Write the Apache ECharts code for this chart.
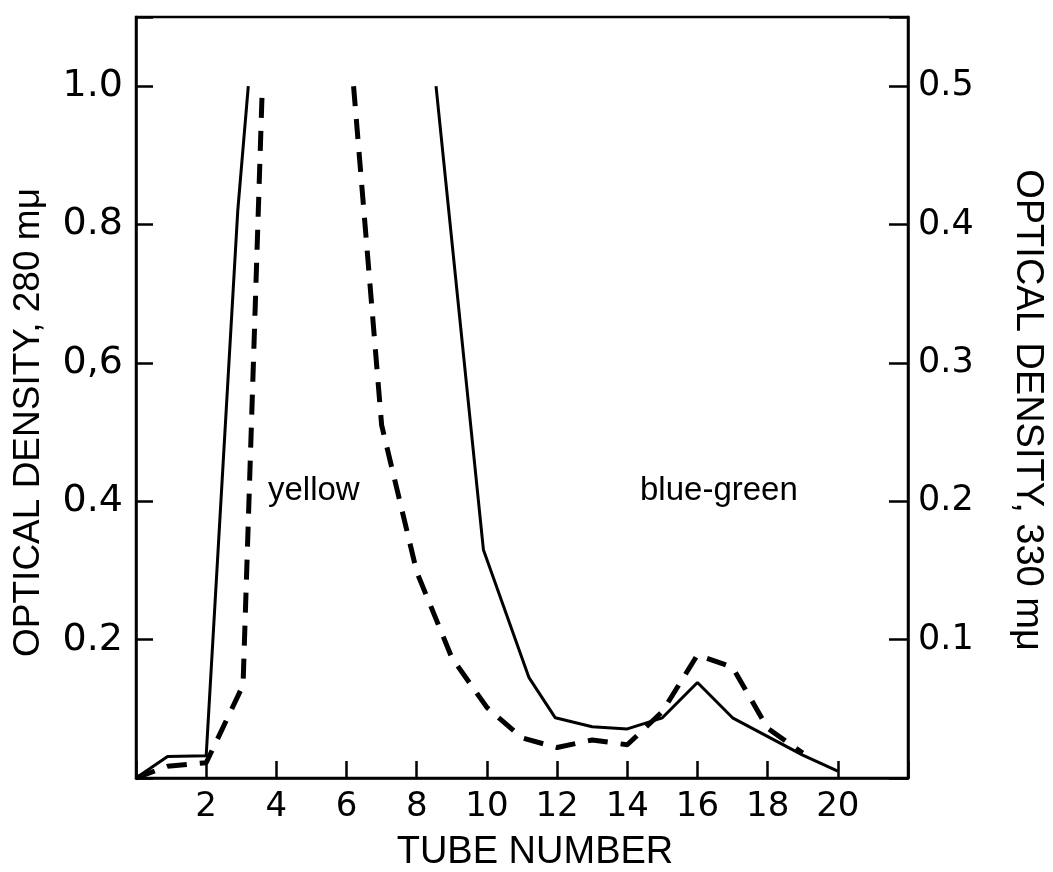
<!DOCTYPE html>
<html>
<head>
<meta charset="utf-8">
<script src="https://cdn.jsdelivr.net/npm/echarts@6/dist/echarts.min.js"></script>
<style>
html,body{margin:0;padding:0;background:#fff;}
#chart{width:1053px;height:872px;}
</style>
</head>
<body>
<div id="chart"></div>
<script>
// ---- data ----
// Solid line: optical density at 280 mμ (left axis). Curve leaves the scale at 1.0.
const solidPart1 = [[0, 0], [0.9, 0.031], [2, 0.032], [2.9, 0.82], [3.2, 1.0]];
const solidPart2 = [[8.55, 1.0], [9.9, 0.33], [11.2, 0.145], [11.95, 0.087], [13, 0.074], [14, 0.071], [15, 0.087], [16, 0.138], [17, 0.087], [19, 0.033], [20, 0.01]];
// Dashed line: optical density at 330 mμ (right axis). Curve leaves the scale at 0.5.
const dashedPart1 = [[0, 0], [0.9, 0.0085], [2, 0.011], [3.05, 0.067], [3.6, 0.5]];
const dashedPart2 = [[6.2, 0.5], [7, 0.255], [8, 0.149], [9, 0.087], [10, 0.051], [11, 0.029], [12, 0.022], [13, 0.0275], [14, 0.024], [15, 0.048], [16, 0.089], [17, 0.08], [18, 0.036], [19, 0.018]];

const xTickValues = [2, 4, 6, 8, 10, 12, 14, 16, 18, 20];
const xTickLabels = ['2', '4', '6', '8', '10', '12', '14', '16', '18', '20'];
const leftTickValues = [0.2, 0.4, 0.6, 0.8, 1.0];
const leftTickLabels = ['0.2', '0.4', '0,6', '0.8', '1.0'];
const rightTickValues = [0.1, 0.2, 0.3, 0.4, 0.5];
const rightTickLabels = ['0.1', '0.2', '0.3', '0.4', '0.5'];

const xAxisTitle = 'TUBE NUMBER';
const leftAxisTitle = 'OPTICAL DENSITY, 280 mμ';
const rightAxisTitle = 'OPTICAL DENSITY, 330 mμ';
const annotations = ['yellow', 'blue-green'];

// ---- helpers ----
function lookup(values, labels) {
  return function (v) {
    for (let i = 0; i < values.length; i++) {
      if (Math.abs(values[i] - v) < 1e-6) return labels[i];
    }
    return '';
  };
}

const FONT = 'Liberation Sans';
const NUMFONT = 'DejaVu Sans';
const chart = echarts.init(document.getElementById('chart'), null, {renderer: 'canvas'});

const solidStyle = {color: '#000', width: 3, type: 'solid'};
const dashedStyle = {color: '#000', width: 5, type: [20, 13], cap: 'butt'};

function lineSeries(data, style, yIndex) {
  return {
    type: 'line',
    yAxisIndex: yIndex,
    data: data,
    showSymbol: false,
    symbol: 'none',
    smooth: false,
    lineStyle: style,
    itemStyle: {color: '#000'},
    clip: false,
    z: 3,
    animation: false
  };
}

const option = {
  backgroundColor: '#fff',
  animation: false,
  grid: {
    left: 136, right: 145, top: 17, bottom: 94,
    containLabel: false,
    outerBoundsMode: 'none',
    show: true, borderColor: '#000', borderWidth: 2.5, backgroundColor: 'transparent'
  },
  xAxis: {
    type: 'value',
    min: 0, max: 22, interval: 2,
    name: xAxisTitle,
    nameLocation: 'middle',
    nameGap: 56,
    nameTextStyle: {fontFamily: FONT, fontSize: 38, color: '#000', padding: [0, 0, 0, 26]},
    axisLine: {show: true, lineStyle: {color: '#000', width: 2.5}},
    axisTick: {show: true, inside: true, length: 17, lineStyle: {color: '#000', width: 2.5}},
    axisLabel: {
      fontFamily: NUMFONT, fontSize: 34, color: '#000', margin: 12,
      formatter: lookup(xTickValues, xTickLabels)
    },
    splitLine: {show: false}
  },
  yAxis: [
    {
      type: 'value',
      position: 'left',
      min: 0, max: 1.1, interval: 0.2,
      name: leftAxisTitle,
      nameLocation: 'middle',
      nameRotate: 90,
      nameGap: 89,
      nameTextStyle: {fontFamily: FONT, fontSize: 37, color: '#000', padding: [0, 50, 0, 0]},
      axisLine: {show: true, lineStyle: {color: '#000', width: 2.5}},
      axisTick: {show: true, inside: true, length: 17, lineStyle: {color: '#000', width: 2.5}},
      axisLabel: {
        fontFamily: NUMFONT, fontSize: 38, color: '#000', margin: 13,
        formatter: lookup(leftTickValues, leftTickLabels)
      },
      splitLine: {show: false}
    },
    {
      type: 'value',
      position: 'right',
      min: 0, max: 0.55, interval: 0.1,
      name: rightAxisTitle,
      nameLocation: 'middle',
      nameRotate: -90,
      nameGap: 100,
      nameTextStyle: {fontFamily: FONT, fontSize: 38, color: '#000', padding: [0, 0, 0, 25]},
      axisLine: {show: true, lineStyle: {color: '#000', width: 2.5}},
      axisTick: {show: true, inside: true, length: 19, lineStyle: {color: '#000', width: 2.5}},
      axisLabel: {
        fontFamily: NUMFONT, fontSize: 35, color: '#000', margin: 10,
        formatter: lookup(rightTickValues, rightTickLabels)
      },
      splitLine: {show: false}
    }
  ],
  graphic: [
    {type: 'text', left: 268, top: 474, style: {text: annotations[0], font: '33px "Liberation Sans"', fill: '#000'}},
    {type: 'text', left: 640, top: 474, style: {text: annotations[1], font: '33px "Liberation Sans"', fill: '#000'}}
  ],
  series: [
    lineSeries(solidPart1, solidStyle, 0),
    lineSeries(solidPart2, solidStyle, 0),
    lineSeries(dashedPart1, dashedStyle, 1),
    lineSeries(dashedPart2, dashedStyle, 1)
  ]
};

chart.setOption(option);
</script>
</body>
</html>
